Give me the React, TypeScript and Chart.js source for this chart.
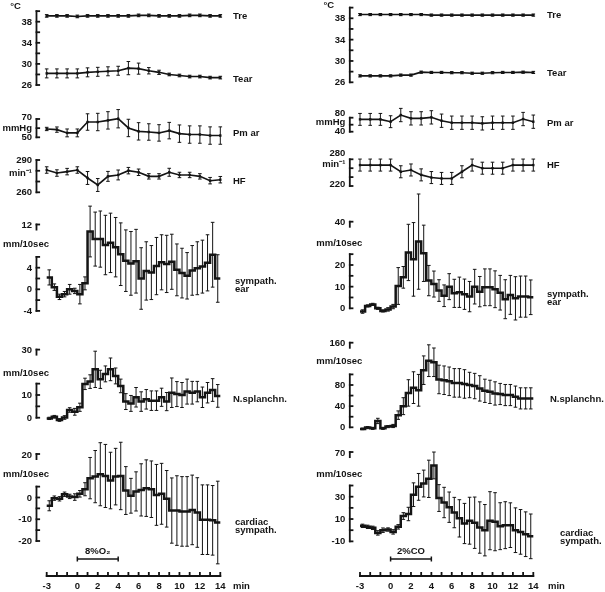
import React, { useEffect, useRef } from "react";
import { Chart, registerables } from "chart.js";

Chart.register(...registerables);

const CANVAS_W = 605;
const CANVAS_H = 592;
const INK = "#141414";
const FONT = 'bold 9.5px "Liberation Sans", Arial, sans-serif';

// ---------- time bases ----------
const MINUTES = [-3, -2, -1, 0, 1, 2, 3, 4, 5, 6, 7, 8, 9, 10, 11, 12, 13, 14];
const BIN_STARTS = [
  -3, -2.5, -2, -1.5, -1, -0.5, 0, 0.5, 1, 1.5, 2, 2.5, 3, 3.5, 4, 4.5, 5, 5.5,
  6, 6.5, 7, 7.5, 8, 8.5, 9, 9.5, 10, 10.5, 11, 11.5, 12, 12.5, 13, 13.5,
];
const BIN_END = 14;
const X_TICKS = [-3, -2, -1, 0, 1, 2, 3, 4, 5, 6, 7, 8, 9, 10, 11, 12, 13, 14];
const X_TICK_LABELS = [-3, 0, 2, 4, 6, 8, 10, 12, 14];
const STIM_START = 0;
const STIM_END = 4;

// ---------- left column (8% O2) ----------
const L_TRE = [39.1, 39.1, 39.1, 39.0, 39.1, 39.1, 39.1, 39.1, 39.1, 39.2, 39.2, 39.1, 39.1, 39.1, 39.2, 39.2, 39.1, 39.1];
const L_TRE_ERR = [0.25, 0.25, 0.25, 0.25, 0.25, 0.25, 0.25, 0.25, 0.25, 0.25, 0.25, 0.25, 0.25, 0.25, 0.25, 0.25, 0.25, 0.25];
const L_TEAR = [28.2, 28.2, 28.2, 28.2, 28.4, 28.5, 28.6, 28.7, 29.2, 29.1, 28.7, 28.4, 28.0, 27.8, 27.6, 27.6, 27.4, 27.4];
const L_TEAR_ERR = [0.85, 0.85, 0.85, 0.85, 0.85, 0.85, 0.85, 0.85, 1.25, 1.05, 0.6, 0.4, 0.25, 0.25, 0.25, 0.25, 0.25, 0.25];
const L_PMAR = [59.1, 58.4, 54.8, 54.8, 66.7, 66.7, 68.5, 70.3, 60.2, 56.5, 55.8, 54.8, 57.3, 54.0, 53.0, 53.0, 51.9, 51.9];
const L_PMAR_ERR = [1.8, 2.9, 4.3, 4.3, 9, 9.5, 9.5, 10, 9.5, 9.5, 9, 9, 9, 9.5, 9.5, 9.5, 9.5, 9.5];
const L_HF = [280.7, 277.9, 279.2, 280.7, 273.3, 266.8, 274.8, 276.1, 280.1, 278.6, 274.8, 274.8, 278.6, 276.1, 276.1, 274.8, 270.8, 271.7];
const L_HF_ERR = [3, 3, 3, 3, 6, 6, 4.6, 4.6, 3, 3, 2.5, 2.5, 3.7, 2.5, 2.5, 2.5, 3, 3];
const L_SYMP = [2.2, 0.4, -1.4, -0.9, 0, -0.3, -0.9, 1.1, 10.7, 9.3, 9.3, 8.2, 8.6, 7.8, 6.5, 5.3, 4.8, 5.2, 2.0, 3.4, 3.1, 4.3, 5.0, 4.7, 5.1, 3.6, 3.0, 2.5, 3.5, 3.9, 4.2, 4.9, 6.4, 2.0];
const L_SYMP_ERR = [1.4, 0.6, 0.5, 0.5, 0.9, 0.5, 1.8, 1.2, 4.7, 5.0, 5.2, 5.5, 5.5, 5.5, 5.8, 5.7, 5.9, 5.9, 5.7, 5.4, 5.0, 5.3, 5.1, 5.3, 5.1, 4.8, 4.6, 4.3, 4.6, 4.9, 4.9, 5.2, 6.0, 4.4];
const L_SPL = [-0.3, 0.4, -1, 0.1, 3.4, 2.6, 4.6, 14.9, 15.9, 21.3, 16.9, 19.3, 21.3, 18.4, 14, 7.1, 6.3, 9, 7.1, 8.1, 7.5, 7.5, 9, 7.1, 11, 10.4, 10, 11.5, 11, 11.5, 9, 11, 12.2, 9.6];
const L_SPL_ERR = [0.5, 0.6, 0.6, 0.8, 1, 1.5, 1.8, 2.5, 3, 8, 4, 3.5, 5, 3.5, 3, 3.5, 3.5, 4.3, 4.3, 4.3, 4.3, 4.3, 4, 4, 6.5, 5.5, 5.5, 5.5, 5, 4.5, 4.5, 4.5, 5, 5];
const L_CARD = [-3.8, -0.3, -0.6, 1.5, 0.5, 0.2, 1.7, 3.8, 8.9, 9.6, 10.7, 9.9, 7.8, 9.6, 9.9, 3.2, 0.8, 2.8, 3.5, 4.3, 3.8, 1.2, 1.7, -0.6, -6.0, -6.0, -6.4, -6.4, -5.7, -6.9, -10.2, -10.2, -10.5, -11.5];
const L_CARD_ERR = [2.3, 1, 1, 1, 1, 1.5, 1.5, 3, 9.5, 12, 14.5, 14.5, 13, 13, 15.5, 11, 8, 9, 12, 13, 13, 14, 14, 13, 15, 16, 16, 16, 16, 16, 16, 16, 16, 19];

// ---------- right column (2% CO) ----------
const R_TRE = [38.7, 38.7, 38.7, 38.7, 38.7, 38.7, 38.7, 38.6, 38.6, 38.6, 38.6, 38.6, 38.6, 38.6, 38.6, 38.6, 38.6, 38.6];
const R_TRE_ERR = [0.2, 0.2, 0.2, 0.2, 0.2, 0.2, 0.2, 0.2, 0.2, 0.2, 0.2, 0.2, 0.2, 0.2, 0.2, 0.2, 0.2, 0.2];
const R_TEAR = [27.2, 27.2, 27.2, 27.2, 27.35, 27.35, 27.9, 27.85, 27.85, 27.8, 27.8, 27.7, 27.7, 27.8, 27.85, 27.85, 27.9, 27.85];
const R_TEAR_ERR = [0.2, 0.2, 0.2, 0.2, 0.2, 0.2, 0.2, 0.2, 0.2, 0.2, 0.2, 0.2, 0.2, 0.2, 0.2, 0.2, 0.2, 0.2];
const R_PMAR = [75.2, 75.2, 75.2, 68.6, 87.6, 78.1, 78.1, 81, 71.4, 65.7, 65.7, 65.7, 63.8, 65.7, 65.7, 65.7, 76.2, 68.6];
const R_PMAR_ERR = [17, 17, 17, 17, 19, 19, 19, 19, 19, 19, 19, 19, 19, 19, 19, 19, 19, 19];
const R_HF = [267, 267, 267, 267, 252, 256, 245, 239, 237, 237, 252, 267, 260, 260, 260, 267, 267, 267];
const R_HF_ERR = [13.5, 13.5, 13.5, 13.5, 13.5, 13.5, 13.5, 13.5, 13.5, 13.5, 13.5, 13.5, 13.5, 13.5, 13.5, 13.5, 13.5, 13.5];
const R_SYMP = [-1.5, 1.1, 1.8, 0, -1.2, -0.5, 0.8, 10.3, 14.3, 25.8, 22.6, 30.8, 25.4, 12.8, 11.2, 8.2, 5.8, 10, 6.9, 7.4, 6.5, 5.4, 10, 7.7, 9.7, 9.7, 8.8, 7.2, 4.2, 6.2, 4.6, 5.4, 5.4, 5.1];
const R_SYMP_ERR = [0.8, 0.5, 0.5, 0.5, 0.5, 0.8, 1, 8.5, 5, 13, 17, 22, 13, 7, 6, 5, 5, 6, 6.5, 7, 7, 7, 8, 7, 8.5, 8.5, 8.5, 8, 9, 9, 10, 9.5, 9.5, 8];
const R_SPL = [-3, -0.6, -2, 12, -2, 1.3, 2.5, 23, 40, 65, 75, 70, 108, 126, 123, 90.5, 89, 87, 84, 84, 82, 80, 78, 73.6, 69, 67, 64, 63, 61, 61, 58, 54.7, 54.7, 54.7];
const R_SPL_ERR = [1.5, 2, 2, 5, 2, 2, 3, 8, 16, 25, 30, 30, 27, 30, 27, 27, 27, 27, 27, 27, 27, 24, 24, 24, 22, 22, 22, 20, 20, 20, 20, 20, 20, 20];
const R_CARD = [3.9, 3, 2.1, -2.4, 0, 0.6, -1.5, 3, 12.7, 14.5, 31.8, 38.8, 41.8, 46, 58, 28.8, 24.8, 20.6, 15.8, 10.6, 6, 8.5, 6.7, 2.4, 0, 8.5, 7.6, 3.6, 4.5, 4.5, 0, -1.5, -3.6, -5.5];
const R_CARD_ERR = [1.5, 1.5, 1.5, 2, 2, 1.5, 2, 2, 3, 6, 10.6, 12, 12, 16.7, 12, 12, 13.6, 13.6, 13.6, 16.7, 18, 21, 23, 23, 23, 26, 26, 21, 21, 20, 20, 20, 20, 20];

// ---------- layout (positions only) ----------
const Y_AXIS_AT_MIN = -4;
const COLS: any = {
  L: { xId: "xL", xAnchor: [-3, 46.7, 14, 220.3], axisY: 576, labelY: 586, minX: 233, stimY: 559, stimText: "8%O\u2082" },
  R: { xId: "xR", xAnchor: [-3, 360, 14, 533.3], axisY: 576, labelY: 586, minX: 548, stimY: 559, stimText: "2%CO" },
};

const PANELS: any[] = [
  { col: "L", yId: "yL1", anchor: [38, 21.7, 26, 85], segments: [[26, 40]], ticks: [26, 28, 30, 32, 34, 36, 38, 40], labels: [26, 30, 34, 38], unit: "\u00B0C", unitTop: true, unitY: 6, series: [["Tre", 233, 16], ["Tear", 233, 79]] },
  { col: "L", yId: "yL2", anchor: [70, 119, 50, 137.3], segments: [[50, 70]], ticks: [50, 60, 70], labels: [50, 70], labelDy: { 70: -2, 50: 0.5 }, unit: "mmHg", unitY: 128.5, series: [["Pm ar", 233, 133]] },
  { col: "L", yId: "yL3", anchor: [290, 160, 260, 192.3], segments: [[260, 290]], ticks: [260, 270, 280, 290], labels: [260, 290], labelDy: { 290: 0.5, 260: 0.5 }, unit: "min\u207B\u00B9", unitY: 173, series: [["HF", 233, 181]] },
  { col: "L", yId: "yL4", anchor: [4, 267.7, 0, 289.3], segments: [[-4, 6]], ticks: [-4, -2, 0, 2, 4, 6], labels: [-4, 0, 4], cap: 12, unit: "mm/10sec", unitMid: true, unitY: 244.3, series: [["sympath.", 235, 281.5], ["ear", 235, 289.5]] },
  { col: "L", yId: "yL5", anchor: [10, 395, 0, 417.7], segments: [[0, 15]], ticks: [0, 5, 10, 15], labels: [0, 10], cap: 30, unit: "mm/10sec", unitMid: true, unitY: 373.3, series: [["N.splanchn.", 233, 399]] },
  { col: "L", yId: "yL6", anchor: [0, 497.5, -20, 541], segments: [[-20, 5]], ticks: [-20, -15, -10, -5, 0, 5], labels: [-20, -10, 0], cap: 20, unit: "mm/10sec", unitMid: true, unitY: 474.3, series: [["cardiac", 235, 522], ["sympath.", 235, 530]] },
  { col: "R", yId: "yR1", anchor: [38, 18.3, 26, 82.3], segments: [[26, 40]], ticks: [26, 28, 30, 32, 34, 36, 38, 40], labels: [26, 30, 34, 38], unit: "\u00B0C", unitTop: true, unitY: 5, series: [["Tre", 547, 15], ["Tear", 547, 73]] },
  { col: "R", yId: "yR2", anchor: [80, 117.7, 40, 131.7], segments: [[40, 80]], ticks: [40, 60, 80], labels: [40, 80], labelDy: { 80: -4.5, 40: -0.5 }, unit: "mmHg", unitY: 122.3, series: [["Pm ar", 547, 123]] },
  { col: "R", yId: "yR3", anchor: [280, 159.3, 220, 186], segments: [[220, 280]], ticks: [220, 240, 260, 280], labels: [220, 280], labelDy: { 280: -5.5, 220: -1.5 }, unit: "min\u207B\u00B9", unitY: 164.5, series: [["HF", 547, 165]] },
  { col: "R", yId: "yR4", anchor: [20, 265, 0, 308.3], segments: [[0, 25]], ticks: [0, 5, 10, 15, 20, 25], labels: [0, 10, 20], cap: 40, unit: "mm/10sec", unitMid: true, unitY: 243.3, series: [["sympath.", 547, 294], ["ear", 547, 302]] },
  { col: "R", yId: "yR5", anchor: [80, 385, 0, 427.3], segments: [[0, 100]], ticks: [0, 20, 40, 60, 80, 100], labels: [0, 40, 80], cap: 160, unit: "mm/10sec", unitMid: true, unitY: 361.7, series: [["N.splanchn.", 550, 399]] },
  { col: "R", yId: "yR6", anchor: [30, 496.7, 0, 530.2], segments: [[-10, 40]], ticks: [-10, 0, 10, 20, 30, 40], labels: [-10, 10, 30], cap: 70, unit: "mm/10sec", unitMid: true, unitY: 474.3, series: [["cardiac", 560, 533], ["sympath.", 560, 541]] },
];

function xRange(a: number[]) {
  const [v0, p0, v1, p1] = a;
  const k = (p1 - p0) / (v1 - v0);
  const min = v0 - p0 / k;
  return { min, max: min + CANVAS_W / k };
}
function yRange(a: number[]) {
  const [vTop, pTop, vBot, pBot] = a;
  const k = (pBot - pTop) / (vTop - vBot);
  const max = vTop + pTop / k;
  return { min: max - CANVAS_H / k, max };
}

function lineSet(ys: number[], errs: number[], xAxisID: string, yAxisID: string) {
  return {
    data: MINUTES.map((x, i) => ({ x, y: ys[i] })),
    xAxisID, yAxisID,
    borderColor: INK, borderWidth: 1.6,
    pointStyle: "rect", pointRadius: 1.7, pointBackgroundColor: INK, pointBorderWidth: 0,
    tension: 0, errors: errs, errOffset: 0,
  };
}
function stepSet(ys: number[], errs: number[], xAxisID: string, yAxisID: string) {
  const data = BIN_STARTS.map((x, i) => ({ x, y: ys[i] }));
  data.push({ x: BIN_END, y: ys[ys.length - 1] });
  return {
    data, xAxisID, yAxisID,
    borderColor: INK, borderWidth: 2.5, borderJoinStyle: "miter", borderCapStyle: "butt",
    pointRadius: 0, stepped: "before", tension: 0, errors: errs, errOffset: 0.25,
  };
}

function strokeLine(ctx: CanvasRenderingContext2D, x1: number, y1: number, x2: number, y2: number) {
  ctx.beginPath();
  ctx.moveTo(x1, y1);
  ctx.lineTo(x2, y2);
  ctx.stroke();
}

const decorPlugin = {
  id: "decor",
  beforeDatasetsDraw(chart: any) {
    const ctx = chart.ctx as CanvasRenderingContext2D;
    ctx.save();
    ctx.strokeStyle = INK;
    ctx.lineWidth = 1;
    chart.data.datasets.forEach((ds: any) => {
      const xs = chart.scales[ds.xAxisID];
      const ys = chart.scales[ds.yAxisID];
      (ds.errors || []).forEach((e: number, i: number) => {
        const pt = ds.data[i];
        const px = xs.getPixelForValue(pt.x + ds.errOffset);
        const top = ys.getPixelForValue(pt.y + e);
        const bot = ys.getPixelForValue(pt.y - e);
        strokeLine(ctx, px, top, px, bot);
        strokeLine(ctx, px - 1.8, top, px + 1.8, top);
        strokeLine(ctx, px - 1.8, bot, px + 1.8, bot);
      });
    });
    ctx.restore();
  },
  afterDatasetsDraw(chart: any) {
    const ctx = chart.ctx as CanvasRenderingContext2D;
    ctx.save();
    ctx.strokeStyle = INK;
    ctx.fillStyle = INK;
    ctx.font = FONT;
    ctx.lineCap = "butt";
    PANELS.forEach((p) => {
      const col = COLS[p.col];
      const xs = chart.scales[col.xId];
      const ys = chart.scales[p.yId];
      const ax = xs.getPixelForValue(Y_AXIS_AT_MIN);
      ctx.lineWidth = 1.8;
      p.segments.forEach((s: number[]) => {
        strokeLine(ctx, ax, ys.getPixelForValue(s[0]) + 0.9, ax, ys.getPixelForValue(s[1]) - 0.9);
      });
      p.ticks.forEach((t: number) => {
        const y = ys.getPixelForValue(t);
        strokeLine(ctx, ax - 0.9, y, ax + 3.6, y);
      });
      ctx.textAlign = "right";
      ctx.textBaseline = "middle";
      p.labels.forEach((l: number) => {
        const dy = p.labelDy && p.labelDy[l] !== undefined ? p.labelDy[l] : 0.5;
        ctx.fillText(String(l), ax - 4.5, ys.getPixelForValue(l) + dy);
      });
      if (p.cap !== undefined) {
        const y = ys.getPixelForValue(p.cap);
        strokeLine(ctx, ax, y - 0.9, ax, y + 6);
        strokeLine(ctx, ax - 0.9, y, ax + 3.6, y);
        ctx.fillText(String(p.cap), ax - 4.5, y + 1);
      }
      if (p.unitMid) {
        ctx.textAlign = "center";
        ctx.fillText(p.unit, ax - 10.5, p.unitY);
      } else if (p.unitTop) {
        ctx.textAlign = "center";
        ctx.fillText(p.unit, ax - 21, p.unitY);
      } else {
        ctx.textAlign = "right";
        ctx.fillText(p.unit, ax - 4.5, p.unitY);
      }
      ctx.textAlign = "left";
      p.series.forEach((s: any[]) => ctx.fillText(s[0], s[1], s[2]));
    });

    Object.keys(COLS).forEach((k) => {
      const col = COLS[k];
      const xs = chart.scales[col.xId];
      const y0 = col.axisY;
      ctx.lineWidth = 1.8;
      strokeLine(ctx, xs.getPixelForValue(X_TICKS[0]) - 0.9, y0, xs.getPixelForValue(X_TICKS[X_TICKS.length - 1]) + 0.9, y0);
      X_TICKS.forEach((t) => {
        const x = xs.getPixelForValue(t);
        strokeLine(ctx, x, y0 + 0.9, x, y0 - 4);
      });
      ctx.textAlign = "center";
      ctx.textBaseline = "middle";
      X_TICK_LABELS.forEach((t) => ctx.fillText(String(t), xs.getPixelForValue(t), col.labelY));
      ctx.textAlign = "left";
      ctx.fillText("min", col.minX, col.labelY);
      // stimulus bar
      const s0 = xs.getPixelForValue(STIM_START);
      const s1 = xs.getPixelForValue(STIM_END);
      ctx.lineWidth = 1.5;
      strokeLine(ctx, s0, col.stimY, s1, col.stimY);
      strokeLine(ctx, s0, col.stimY - 2.5, s0, col.stimY + 2.5);
      strokeLine(ctx, s1, col.stimY - 2.5, s1, col.stimY + 2.5);
      ctx.textAlign = "center";
      ctx.fillText(col.stimText, (s0 + s1) / 2, col.stimY - 7.5);
    });
    ctx.restore();
  },
};

export default function App() {
  const ref = useRef<HTMLCanvasElement | null>(null);
  useEffect(() => {
    if (!ref.current) return;
    const scales: any = {};
    Object.keys(COLS).forEach((k) => {
      const col = COLS[k];
      scales[col.xId] = { type: "linear", axis: "x", position: "bottom", display: false, bounds: "data", ...xRange(col.xAnchor) };
    });
    PANELS.forEach((p) => {
      scales[p.yId] = { type: "linear", axis: "y", position: "left", display: false, bounds: "data", ...yRange(p.anchor) };
    });
    const datasets = [
      lineSet(L_TRE, L_TRE_ERR, "xL", "yL1"),
      lineSet(L_TEAR, L_TEAR_ERR, "xL", "yL1"),
      lineSet(L_PMAR, L_PMAR_ERR, "xL", "yL2"),
      lineSet(L_HF, L_HF_ERR, "xL", "yL3"),
      stepSet(L_SYMP, L_SYMP_ERR, "xL", "yL4"),
      stepSet(L_SPL, L_SPL_ERR, "xL", "yL5"),
      stepSet(L_CARD, L_CARD_ERR, "xL", "yL6"),
      lineSet(R_TRE, R_TRE_ERR, "xR", "yR1"),
      lineSet(R_TEAR, R_TEAR_ERR, "xR", "yR1"),
      lineSet(R_PMAR, R_PMAR_ERR, "xR", "yR2"),
      lineSet(R_HF, R_HF_ERR, "xR", "yR3"),
      stepSet(R_SYMP, R_SYMP_ERR, "xR", "yR4"),
      stepSet(R_SPL, R_SPL_ERR, "xR", "yR5"),
      stepSet(R_CARD, R_CARD_ERR, "xR", "yR6"),
    ];
    const chart = new Chart(ref.current, {
      type: "line",
      data: { datasets } as any,
      options: {
        responsive: false,
        animation: false,
        events: [],
        layout: { padding: 0, autoPadding: false },
        plugins: { legend: { display: false }, tooltip: { enabled: false }, title: { display: false } },
        scales,
      } as any,
      plugins: [decorPlugin],
    });
    return () => chart.destroy();
  }, []);
  return (
    <div style={{ position: "absolute", left: 0, top: 0, width: CANVAS_W, height: CANVAS_H, background: "#fff" }}>
      <canvas ref={ref} width={CANVAS_W} height={CANVAS_H} style={{ display: "block" }} />
    </div>
  );
}
